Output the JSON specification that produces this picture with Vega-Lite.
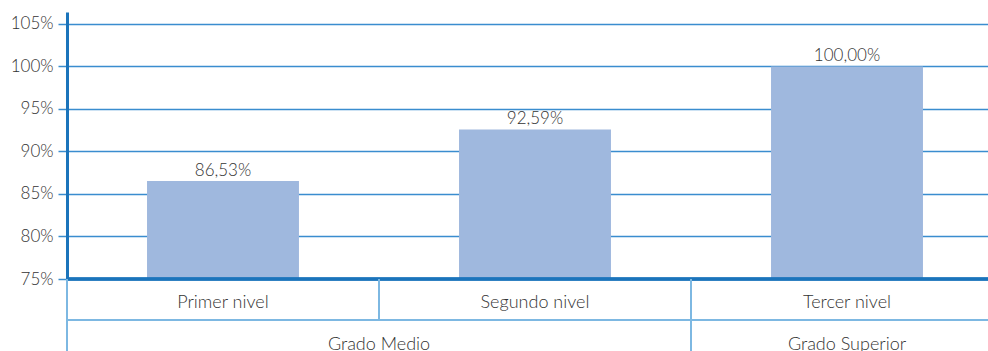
{
  "$schema": "https://vega.github.io/schema/vega-lite/v6.json",
  "padding": {"left": 10, "top": 12, "right": 0, "bottom": 0},
  "background": "white",
  "bounds": "flush",
  "config": {
    "locale": {"number": {"decimal": ",", "thousands": ".", "grouping": [3], "currency": ["", " €"]}},
    "font": "Lato",
    "view": {"stroke": null},
    "concat": {"spacing": 0}
  },
  "datasets": {
    "tasas": [
      {"nivel": "Primer nivel", "grado": "Grado Medio", "tasa": 0.8653},
      {"nivel": "Segundo nivel", "grado": "Grado Medio", "tasa": 0.9259},
      {"nivel": "Tercer nivel", "grado": "Grado Superior", "tasa": 1.0}
    ]
  },
  "resolve": {"scale": {"x": "shared"}},
  "vconcat": [
    {
      "width": 936,
      "height": 267,
      "data": {"name": "tasas"},
      "layer": [
        {
          "mark": {"type": "bar", "color": "#9fb8de", "width": {"band": 0.487}},
          "encoding": {
            "x": {
              "field": "nivel", "type": "nominal", "sort": null,
              "scale": {"paddingInner": 0, "paddingOuter": 0},
              "axis": null
            },
            "y": {
              "field": "tasa", "type": "quantitative",
              "scale": {"domain": [0.75, 1.064], "zero": false, "nice": false},
              "axis": {
                "title": null, "values": [0.75, 0.8, 0.85, 0.9, 0.95, 1.0, 1.05], "format": ".0%",
                "grid": true, "gridColor": "#3a8dcf", "gridWidth": 1.5,
                "tickColor": "#3a8dcf", "tickSize": 9, "tickWidth": 1.5,
                "domainColor": "#1b74bb", "domainWidth": 3,
                "labelFontSize": 17, "labelFontWeight": 300, "labelColor": "#333333", "labelPadding": 5
              }
            },
            "y2": {"datum": 0.75}
          }
        },
        {
          "mark": {"type": "rule", "color": "#1b74bb", "strokeWidth": 3},
          "encoding": {"y": {"datum": 0.75}}
        },
        {
          "mark": {"type": "text", "dy": -5, "baseline": "alphabetic", "fontSize": 17, "fontWeight": 300, "color": "#333333"},
          "encoding": {
            "x": {"field": "nivel", "type": "nominal", "sort": null},
            "y": {"field": "tasa", "type": "quantitative"},
            "text": {"field": "tasa", "type": "quantitative", "format": ".2%"}
          }
        }
      ]
    },
    {
      "width": 936,
      "height": 41,
      "data": {"name": "tasas"},
      "encoding": {
        "x": {
          "field": "nivel", "type": "nominal", "sort": null,
          "scale": {"paddingInner": 0, "paddingOuter": 0},
          "axis": null
        }
      },
      "layer": [
        {
          "mark": {"type": "rule", "color": "#7db8e2", "strokeWidth": 2},
          "encoding": {"x": {"field": "nivel", "type": "nominal", "sort": null, "bandPosition": 0}}
        },
        {
          "mark": {"type": "text", "fontSize": 18, "fontWeight": 300, "color": "#333333", "dy": 3},
          "encoding": {"text": {"field": "nivel", "type": "nominal"}}
        }
      ]
    },
    {
      "width": 936,
      "height": 41,
      "data": {"name": "tasas"},
      "view": {"stroke": "#7db8e2", "strokeWidth": 2},
      "encoding": {
        "x": {
          "field": "nivel", "type": "nominal", "sort": null,
          "scale": {"paddingInner": 0, "paddingOuter": 0},
          "axis": null
        }
      },
      "layer": [
        {
          "transform": [{"filter": "datum.grado === 'Grado Superior'"}],
          "mark": {"type": "rule", "color": "#7db8e2", "strokeWidth": 2},
          "encoding": {"x": {"field": "nivel", "type": "nominal", "sort": null, "bandPosition": 0}}
        },
        {
          "transform": [{"filter": "datum.nivel === 'Segundo nivel'"}],
          "mark": {"type": "text", "fontSize": 18, "fontWeight": 300, "color": "#333333", "dy": 4},
          "encoding": {
            "x": {"field": "nivel", "type": "nominal", "sort": null, "bandPosition": 0},
            "text": {"field": "grado", "type": "nominal"}
          }
        },
        {
          "transform": [{"filter": "datum.grado === 'Grado Superior'"}],
          "mark": {"type": "text", "fontSize": 18, "fontWeight": 300, "color": "#333333", "dy": 4},
          "encoding": {
            "x": {"field": "nivel", "type": "nominal", "sort": null},
            "text": {"field": "grado", "type": "nominal"}
          }
        }
      ]
    }
  ]
}
